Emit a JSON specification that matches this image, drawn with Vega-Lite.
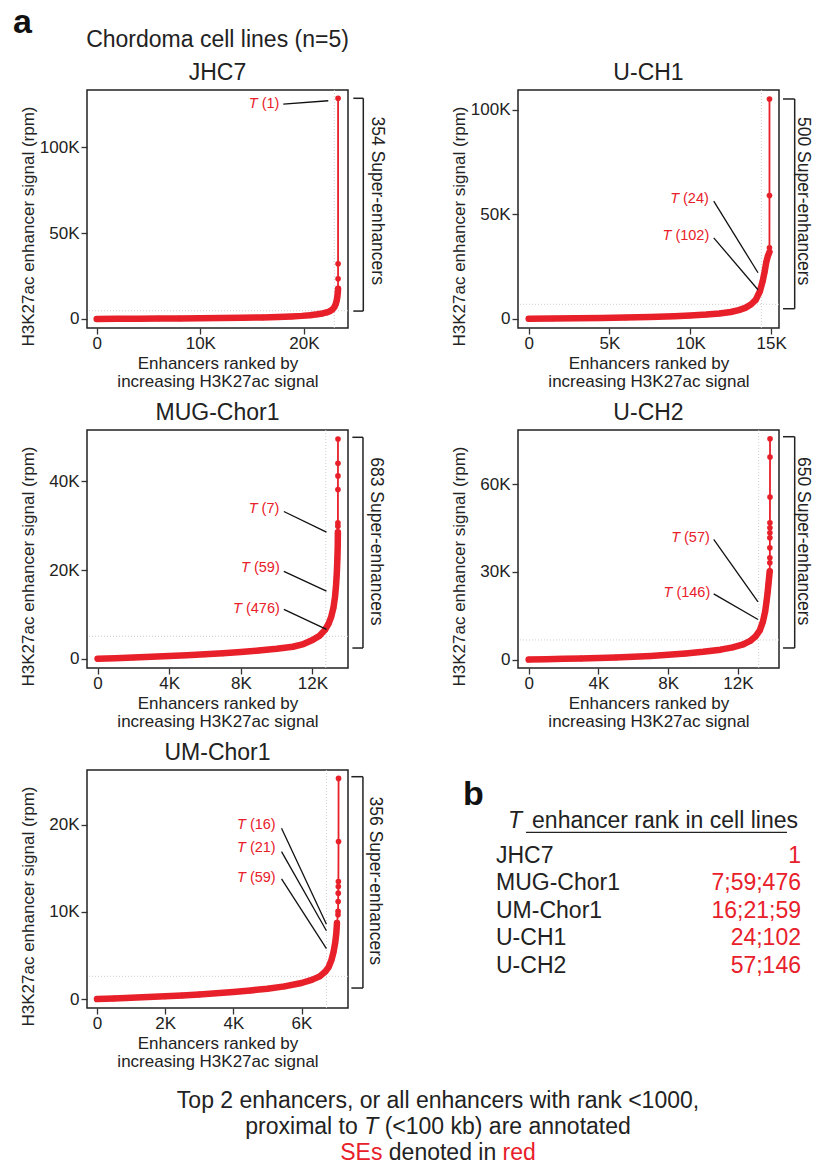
{
  "$schema": "https://vega.github.io/schema/vega-lite/v6.json",
  "padding": {"left": 13, "top": 5, "right": 0, "bottom": 0},
  "background": "white",
  "title": {"text": "a", "anchor": "start", "frame": "group", "dx": -74, "offset": -12, "fontSize": 34, "fontWeight": "bold", "color": "#111"},
  "config": {
    "font": "Liberation Sans",
    "view": {"stroke": "#222", "strokeWidth": 1.5},
    "axis": {"domain": false, "grid": false, "tickColor": "#333", "tickWidth": 1.3, "tickSize": 6, "labelFontSize": 17, "labelColor": "#222", "labelFont": "Liberation Sans", "titleFontSize": 17, "titleFontWeight": "normal", "titleColor": "#222", "titleFont": "Liberation Sans", "labelFlush": false, "labelOverlap": false},
    "title": {"fontSize": 23, "fontWeight": "normal", "color": "#222", "font": "Liberation Sans", "offset": 5, "anchor": "middle"},
    "text": {"font": "Liberation Sans"}
  },
  "datasets": {
    "curve": [
      {"cell": "JHC7", "order": 0, "signal": 0},
      {"cell": "JHC7", "order": 2000, "signal": 60},
      {"cell": "JHC7", "order": 4000, "signal": 130},
      {"cell": "JHC7", "order": 6000, "signal": 210},
      {"cell": "JHC7", "order": 8000, "signal": 300},
      {"cell": "JHC7", "order": 10000, "signal": 400},
      {"cell": "JHC7", "order": 12000, "signal": 520},
      {"cell": "JHC7", "order": 14000, "signal": 680},
      {"cell": "JHC7", "order": 16000, "signal": 900},
      {"cell": "JHC7", "order": 17500, "signal": 1150},
      {"cell": "JHC7", "order": 18800, "signal": 1450},
      {"cell": "JHC7", "order": 19800, "signal": 1800},
      {"cell": "JHC7", "order": 20600, "signal": 2200},
      {"cell": "JHC7", "order": 21300, "signal": 2700},
      {"cell": "JHC7", "order": 21800, "signal": 3200},
      {"cell": "JHC7", "order": 22200, "signal": 3800},
      {"cell": "JHC7", "order": 22500, "signal": 4500},
      {"cell": "JHC7", "order": 22750, "signal": 5500},
      {"cell": "JHC7", "order": 22950, "signal": 7000},
      {"cell": "JHC7", "order": 23080, "signal": 8800},
      {"cell": "JHC7", "order": 23170, "signal": 10800},
      {"cell": "JHC7", "order": 23230, "signal": 13000},
      {"cell": "JHC7", "order": 23270, "signal": 15200},
      {"cell": "JHC7", "order": 23297, "signal": 17540},
      {"cell": "JHC7", "order": 23298, "signal": 23390},
      {"cell": "JHC7", "order": 23299, "signal": 32160},
      {"cell": "JHC7", "order": 23300, "signal": 128500},
      {"cell": "U-CH1", "order": 0, "signal": 0},
      {"cell": "U-CH1", "order": 1500, "signal": 100},
      {"cell": "U-CH1", "order": 3000, "signal": 220},
      {"cell": "U-CH1", "order": 4500, "signal": 380},
      {"cell": "U-CH1", "order": 6000, "signal": 580},
      {"cell": "U-CH1", "order": 7500, "signal": 850},
      {"cell": "U-CH1", "order": 9000, "signal": 1200},
      {"cell": "U-CH1", "order": 10000, "signal": 1550},
      {"cell": "U-CH1", "order": 11000, "signal": 2000},
      {"cell": "U-CH1", "order": 11800, "signal": 2500},
      {"cell": "U-CH1", "order": 12500, "signal": 3200},
      {"cell": "U-CH1", "order": 13000, "signal": 4100},
      {"cell": "U-CH1", "order": 13400, "signal": 5200},
      {"cell": "U-CH1", "order": 13750, "signal": 6800},
      {"cell": "U-CH1", "order": 14050, "signal": 9000},
      {"cell": "U-CH1", "order": 14300, "signal": 13000},
      {"cell": "U-CH1", "order": 14480, "signal": 18000},
      {"cell": "U-CH1", "order": 14600, "signal": 22500},
      {"cell": "U-CH1", "order": 14700, "signal": 27000},
      {"cell": "U-CH1", "order": 14800, "signal": 30000},
      {"cell": "U-CH1", "order": 14897, "signal": 31850},
      {"cell": "U-CH1", "order": 14898, "signal": 33900},
      {"cell": "U-CH1", "order": 14899, "signal": 58930},
      {"cell": "U-CH1", "order": 14900, "signal": 105060},
      {"cell": "MUG-Chor1", "order": 0, "signal": 0},
      {"cell": "MUG-Chor1", "order": 1000, "signal": 130},
      {"cell": "MUG-Chor1", "order": 2000, "signal": 280},
      {"cell": "MUG-Chor1", "order": 3000, "signal": 440},
      {"cell": "MUG-Chor1", "order": 4000, "signal": 600},
      {"cell": "MUG-Chor1", "order": 5000, "signal": 780},
      {"cell": "MUG-Chor1", "order": 6000, "signal": 980},
      {"cell": "MUG-Chor1", "order": 7000, "signal": 1220},
      {"cell": "MUG-Chor1", "order": 8000, "signal": 1500},
      {"cell": "MUG-Chor1", "order": 9000, "signal": 1850},
      {"cell": "MUG-Chor1", "order": 10000, "signal": 2250},
      {"cell": "MUG-Chor1", "order": 10900, "signal": 2700},
      {"cell": "MUG-Chor1", "order": 11500, "signal": 3300},
      {"cell": "MUG-Chor1", "order": 12000, "signal": 4200},
      {"cell": "MUG-Chor1", "order": 12400, "signal": 5200},
      {"cell": "MUG-Chor1", "order": 12700, "signal": 6500},
      {"cell": "MUG-Chor1", "order": 12900, "signal": 7900},
      {"cell": "MUG-Chor1", "order": 13050, "signal": 9500},
      {"cell": "MUG-Chor1", "order": 13170, "signal": 11500},
      {"cell": "MUG-Chor1", "order": 13260, "signal": 14000},
      {"cell": "MUG-Chor1", "order": 13320, "signal": 16800},
      {"cell": "MUG-Chor1", "order": 13360, "signal": 19500},
      {"cell": "MUG-Chor1", "order": 13390, "signal": 22500},
      {"cell": "MUG-Chor1", "order": 13410, "signal": 25500},
      {"cell": "MUG-Chor1", "order": 13418, "signal": 28530},
      {"cell": "MUG-Chor1", "order": 13419, "signal": 29890},
      {"cell": "MUG-Chor1", "order": 13420, "signal": 30630},
      {"cell": "MUG-Chor1", "order": 13421, "signal": 38150},
      {"cell": "MUG-Chor1", "order": 13422, "signal": 41220},
      {"cell": "MUG-Chor1", "order": 13423, "signal": 44080},
      {"cell": "MUG-Chor1", "order": 13424, "signal": 49550},
      {"cell": "U-CH2", "order": 0, "signal": 0},
      {"cell": "U-CH2", "order": 1000, "signal": 120},
      {"cell": "U-CH2", "order": 2000, "signal": 250},
      {"cell": "U-CH2", "order": 3000, "signal": 390},
      {"cell": "U-CH2", "order": 4000, "signal": 550},
      {"cell": "U-CH2", "order": 5000, "signal": 740},
      {"cell": "U-CH2", "order": 6000, "signal": 960},
      {"cell": "U-CH2", "order": 7000, "signal": 1250},
      {"cell": "U-CH2", "order": 8000, "signal": 1650},
      {"cell": "U-CH2", "order": 9000, "signal": 2100},
      {"cell": "U-CH2", "order": 10000, "signal": 2650},
      {"cell": "U-CH2", "order": 11000, "signal": 3400},
      {"cell": "U-CH2", "order": 11700, "signal": 4200},
      {"cell": "U-CH2", "order": 12300, "signal": 5200},
      {"cell": "U-CH2", "order": 12700, "signal": 6400},
      {"cell": "U-CH2", "order": 13000, "signal": 7900},
      {"cell": "U-CH2", "order": 13250, "signal": 10000},
      {"cell": "U-CH2", "order": 13430, "signal": 13000},
      {"cell": "U-CH2", "order": 13560, "signal": 16500},
      {"cell": "U-CH2", "order": 13640, "signal": 20000},
      {"cell": "U-CH2", "order": 13700, "signal": 23000},
      {"cell": "U-CH2", "order": 13750, "signal": 26000},
      {"cell": "U-CH2", "order": 13790, "signal": 28500},
      {"cell": "U-CH2", "order": 13820, "signal": 30270},
      {"cell": "U-CH2", "order": 13826, "signal": 33120},
      {"cell": "U-CH2", "order": 13827, "signal": 34830},
      {"cell": "U-CH2", "order": 13828, "signal": 38260},
      {"cell": "U-CH2", "order": 13829, "signal": 41690},
      {"cell": "U-CH2", "order": 13830, "signal": 43400},
      {"cell": "U-CH2", "order": 13831, "signal": 45120},
      {"cell": "U-CH2", "order": 13832, "signal": 46830},
      {"cell": "U-CH2", "order": 13836, "signal": 55640},
      {"cell": "U-CH2", "order": 13837, "signal": 69350},
      {"cell": "U-CH2", "order": 13838, "signal": 75630},
      {"cell": "UM-Chor1", "order": 0, "signal": 0},
      {"cell": "UM-Chor1", "order": 500, "signal": 70},
      {"cell": "UM-Chor1", "order": 1000, "signal": 150},
      {"cell": "UM-Chor1", "order": 1500, "signal": 230},
      {"cell": "UM-Chor1", "order": 2000, "signal": 310},
      {"cell": "UM-Chor1", "order": 2500, "signal": 410},
      {"cell": "UM-Chor1", "order": 3000, "signal": 530},
      {"cell": "UM-Chor1", "order": 3500, "signal": 660},
      {"cell": "UM-Chor1", "order": 4000, "signal": 800},
      {"cell": "UM-Chor1", "order": 4500, "signal": 980},
      {"cell": "UM-Chor1", "order": 5000, "signal": 1190},
      {"cell": "UM-Chor1", "order": 5500, "signal": 1450},
      {"cell": "UM-Chor1", "order": 6000, "signal": 1840},
      {"cell": "UM-Chor1", "order": 6300, "signal": 2200},
      {"cell": "UM-Chor1", "order": 6535, "signal": 2600},
      {"cell": "UM-Chor1", "order": 6700, "signal": 3150},
      {"cell": "UM-Chor1", "order": 6800, "signal": 3700},
      {"cell": "UM-Chor1", "order": 6880, "signal": 4500},
      {"cell": "UM-Chor1", "order": 6940, "signal": 5400},
      {"cell": "UM-Chor1", "order": 6990, "signal": 6500},
      {"cell": "UM-Chor1", "order": 7020, "signal": 7500},
      {"cell": "UM-Chor1", "order": 7040, "signal": 8720},
      {"cell": "UM-Chor1", "order": 7070, "signal": 9680},
      {"cell": "UM-Chor1", "order": 7072, "signal": 10060},
      {"cell": "UM-Chor1", "order": 7075, "signal": 11200},
      {"cell": "UM-Chor1", "order": 7078, "signal": 12160},
      {"cell": "UM-Chor1", "order": 7080, "signal": 12925},
      {"cell": "UM-Chor1", "order": 7082, "signal": 13500},
      {"cell": "UM-Chor1", "order": 7086, "signal": 18085},
      {"cell": "UM-Chor1", "order": 7087, "signal": 25345}
    ],
    "se": [
      {"cell": "JHC7", "n_se": "354 Super-enhancers", "cut_order": 22935, "cut_signal": 4800, "se_top": 128500, "se_bottom": 4600, "label_y": 68830},
      {"cell": "U-CH1", "n_se": "500 Super-enhancers", "cut_order": 14400, "cut_signal": 6880, "se_top": 105060, "se_bottom": 4776, "label_y": 56200},
      {"cell": "MUG-Chor1", "n_se": "683 Super-enhancers", "cut_order": 12741, "cut_signal": 5045, "se_top": 49930, "se_bottom": 2410, "label_y": 26464},
      {"cell": "U-CH2", "n_se": "650 Super-enhancers", "cut_order": 13188, "cut_signal": 6720, "se_top": 76310, "se_bottom": 3977, "label_y": 40560},
      {"cell": "UM-Chor1", "n_se": "356 Super-enhancers", "cut_order": 6731, "cut_signal": 2603, "se_top": 25540, "se_bottom": 1262, "label_y": 13590}
    ],
    "ann": [
      {"cell": "JHC7", "rank": "(1)", "lx": 15930, "ly": 125320, "x1": 18010, "y1": 125150, "x2": 22355, "y2": 127080},
      {"cell": "U-CH1", "rank": "(24)", "lx": 9548, "ly": 57300, "x1": 11450, "y1": 56200, "x2": 14190, "y2": 21970},
      {"cell": "U-CH1", "rank": "(102)", "lx": 9078, "ly": 39350, "x1": 11450, "y1": 38680, "x2": 14190, "y2": 13850},
      {"cell": "MUG-Chor1", "rank": "(7)", "lx": 9159, "ly": 33780, "x1": 10401, "y1": 33200, "x2": 12780, "y2": 28535},
      {"cell": "MUG-Chor1", "rank": "(59)", "lx": 8730, "ly": 20500, "x1": 10401, "y1": 19685, "x2": 12780, "y2": 15248},
      {"cell": "MUG-Chor1", "rank": "(476)", "lx": 8284, "ly": 11260, "x1": 10401, "y1": 11126, "x2": 12780, "y2": 6622},
      {"cell": "U-CH2", "rank": "(57)", "lx": 8905, "ly": 41690, "x1": 10608, "y1": 41140, "x2": 13148, "y2": 19750},
      {"cell": "U-CH2", "rank": "(146)", "lx": 8469, "ly": 22830, "x1": 10608, "y1": 22490, "x2": 13148, "y2": 13710},
      {"cell": "UM-Chor1", "rank": "(16)", "lx": 4486, "ly": 20000, "x1": 5414, "y1": 19610, "x2": 6731, "y2": 8600},
      {"cell": "UM-Chor1", "rank": "(21)", "lx": 4486, "ly": 17400, "x1": 5414, "y1": 16940, "x2": 6731, "y2": 7844},
      {"cell": "UM-Chor1", "rank": "(59)", "lx": 4486, "ly": 13956, "x1": 5414, "y1": 13807, "x2": 6731, "y2": 5780}
    ],
    "table": [
      {"cell": "JHC7", "t_rank": "1"},
      {"cell": "MUG-Chor1", "t_rank": "7;59;476"},
      {"cell": "UM-Chor1", "t_rank": "16;21;59"},
      {"cell": "U-CH1", "t_rank": "24;102"},
      {"cell": "U-CH2", "t_rank": "57;146"}
    ],
    "note": [
      {"line": "l1", "a": "Top 2 enhancers, or all enhancers with rank <1000,"},
      {"line": "l2", "a": "proximal to", "b": "T", "c": "(<100 kb) are annotated"},
      {"line": "l3", "a": "SEs", "b": "denoted in", "c": "red"}
    ]
  },
  "columns": 2,
  "spacing": {"row": 102, "column": 170},
  "bounds": "flush",
  "concat": [
    {
      "width": 261, "height": 238,
      "title": {"text": ["Chordoma cell lines (n=5)", "JHC7"], "lineHeight": 33},
      "layer": [
        {"data": {"name": "curve"}, "transform": [{"filter": "datum.cell == 'JHC7'"}], "mark": {"type": "circle", "color": "#e8202a", "size": 32, "opacity": 1}, "encoding": {
          "x": {"field": "order", "type": "quantitative", "scale": {"domain": [-936, 24257], "nice": false, "zero": false}, "axis": {"values": [0, 10000, 20000], "title": ["Enhancers ranked by", "increasing H3K27ac signal"], "titleY": 40.5, "titleBaseline": "alphabetic", "titleLineHeight": 17.5, "labelPadding": 1.5, "labelExpr": "datum.value == 0 ? '0' : format(datum.value / 1000, 'd') + 'K'"}},
          "y": {"field": "signal", "type": "quantitative", "scale": {"domain": [-5263, 133330], "nice": false, "zero": false}, "axis": {"values": [0, 50000, 100000], "title": "H3K27ac enhancer signal (rpm)", "titleX": -59, "titleY": 136, "titleBaseline": "middle", "labelPadding": 2, "labelExpr": "datum.value == 0 ? '0' : format(datum.value / 1000, 'd') + 'K'"}}}},
        {"data": {"name": "se"}, "transform": [{"filter": "datum.cell == 'JHC7'"}], "mark": {"type": "rule", "color": "#c8c8c8", "strokeDash": [1, 2], "strokeWidth": 0.9}, "encoding": {"y": {"field": "cut_signal", "type": "quantitative", "scale": {"domain": [-5263, 133330], "nice": false, "zero": false}}}},
        {"data": {"name": "se"}, "transform": [{"filter": "datum.cell == 'JHC7'"}], "mark": {"type": "rule", "color": "#c8c8c8", "strokeDash": [1, 2], "strokeWidth": 0.9}, "encoding": {"x": {"field": "cut_order", "type": "quantitative", "scale": {"domain": [-936, 24257], "nice": false, "zero": false}}}},
        {"data": {"name": "curve"}, "transform": [{"filter": "datum.cell == 'JHC7' && datum.signal <= 17540"}], "mark": {"type": "line", "color": "#e8202a", "strokeWidth": 6.5, "strokeCap": "round", "strokeJoin": "round"}, "encoding": {"x": {"field": "order", "type": "quantitative", "scale": {"domain": [-936, 24257], "nice": false, "zero": false}}, "y": {"field": "signal", "type": "quantitative", "scale": {"domain": [-5263, 133330], "nice": false, "zero": false}}}},
        {"data": {"name": "curve"}, "transform": [{"filter": "datum.cell == 'JHC7'"}], "mark": {"type": "line", "color": "#e8202a", "strokeWidth": 1.8}, "encoding": {"x": {"field": "order", "type": "quantitative", "scale": {"domain": [-936, 24257], "nice": false, "zero": false}}, "y": {"field": "signal", "type": "quantitative", "scale": {"domain": [-5263, 133330], "nice": false, "zero": false}}}},
        {"data": {"name": "ann"}, "transform": [{"filter": "datum.cell == 'JHC7'"}], "mark": {"type": "rule", "color": "#111", "strokeWidth": 1.3}, "encoding": {"x": {"field": "x1", "type": "quantitative", "scale": {"domain": [-936, 24257], "nice": false, "zero": false}}, "y": {"field": "y1", "type": "quantitative", "scale": {"domain": [-5263, 133330], "nice": false, "zero": false}}, "x2": {"field": "x2"}, "y2": {"field": "y2"}}},
        {"data": {"name": "ann"}, "transform": [{"filter": "datum.cell == 'JHC7'"}], "mark": {"type": "text", "color": "#e8202a", "fontSize": 14.5, "align": "left", "baseline": "middle"}, "encoding": {"x": {"field": "lx", "type": "quantitative", "scale": {"domain": [-936, 24257], "nice": false, "zero": false}}, "y": {"field": "ly", "type": "quantitative", "scale": {"domain": [-5263, 133330], "nice": false, "zero": false}}, "text": {"field": "rank"}}},
        {"data": {"name": "ann"}, "transform": [{"filter": "datum.cell == 'JHC7'"}], "mark": {"type": "text", "color": "#e8202a", "fontSize": 14.5, "fontStyle": "italic", "align": "right", "baseline": "middle", "dx": -4}, "encoding": {"x": {"field": "lx", "type": "quantitative", "scale": {"domain": [-936, 24257], "nice": false, "zero": false}}, "y": {"field": "ly", "type": "quantitative", "scale": {"domain": [-5263, 133330], "nice": false, "zero": false}}, "text": {"value": "T"}}},
        {"data": {"name": "se"}, "transform": [{"filter": "datum.cell == 'JHC7'"}], "mark": {"type": "rule", "color": "#222", "strokeWidth": 1.5}, "encoding": {"x": {"datum": 25734, "type": "quantitative", "scale": {"domain": [-936, 24257], "nice": false, "zero": false}}, "y": {"field": "se_top", "type": "quantitative", "scale": {"domain": [-5263, 133330], "nice": false, "zero": false}}, "y2": {"field": "se_bottom"}}},
        {"data": {"name": "se"}, "transform": [{"filter": "datum.cell == 'JHC7'"}], "mark": {"type": "rule", "color": "#222", "strokeWidth": 1.5}, "encoding": {"x": {"datum": 24768, "type": "quantitative", "scale": {"domain": [-936, 24257], "nice": false, "zero": false}}, "x2": {"datum": 25734}, "y": {"field": "se_top", "type": "quantitative", "scale": {"domain": [-5263, 133330], "nice": false, "zero": false}}}},
        {"data": {"name": "se"}, "transform": [{"filter": "datum.cell == 'JHC7'"}], "mark": {"type": "rule", "color": "#222", "strokeWidth": 1.5}, "encoding": {"x": {"datum": 24768, "type": "quantitative", "scale": {"domain": [-936, 24257], "nice": false, "zero": false}}, "x2": {"datum": 25734}, "y": {"field": "se_bottom", "type": "quantitative", "scale": {"domain": [-5263, 133330], "nice": false, "zero": false}}}},
        {"data": {"name": "se"}, "transform": [{"filter": "datum.cell == 'JHC7'"}], "mark": {"type": "text", "color": "#222", "fontSize": 17.5, "angle": 90, "align": "center", "baseline": "middle"}, "encoding": {"x": {"datum": 27027, "type": "quantitative", "scale": {"domain": [-936, 24257], "nice": false, "zero": false}}, "y": {"field": "label_y", "type": "quantitative", "scale": {"domain": [-5263, 133330], "nice": false, "zero": false}}, "text": {"field": "n_se"}}}
      ]
    },
    {
      "width": 261, "height": 238,
      "title": "U-CH1",
      "layer": [
        {"data": {"name": "curve"}, "transform": [{"filter": "datum.cell == 'U-CH1'"}], "mark": {"type": "circle", "color": "#e8202a", "size": 32, "opacity": 1}, "encoding": {
          "x": {"field": "order", "type": "quantitative", "scale": {"domain": [-662, 15489], "nice": false, "zero": false}, "axis": {"values": [0, 5000, 10000, 15000], "title": ["Enhancers ranked by", "increasing H3K27ac signal"], "titleY": 40.5, "titleBaseline": "alphabetic", "titleLineHeight": 17.5, "labelPadding": 1.5, "labelExpr": "datum.value == 0 ? '0' : format(datum.value / 1000, 'd') + 'K'"}},
          "y": {"field": "signal", "type": "quantitative", "scale": {"domain": [-4441, 109360], "nice": false, "zero": false}, "axis": {"values": [0, 50000, 100000], "title": "H3K27ac enhancer signal (rpm)", "titleX": -59, "titleY": 136, "titleBaseline": "middle", "labelPadding": 2, "labelExpr": "datum.value == 0 ? '0' : format(datum.value / 1000, 'd') + 'K'"}}}},
        {"data": {"name": "se"}, "transform": [{"filter": "datum.cell == 'U-CH1'"}], "mark": {"type": "rule", "color": "#c8c8c8", "strokeDash": [1, 2], "strokeWidth": 0.9}, "encoding": {"y": {"field": "cut_signal", "type": "quantitative", "scale": {"domain": [-4441, 109360], "nice": false, "zero": false}}}},
        {"data": {"name": "se"}, "transform": [{"filter": "datum.cell == 'U-CH1'"}], "mark": {"type": "rule", "color": "#c8c8c8", "strokeDash": [1, 2], "strokeWidth": 0.9}, "encoding": {"x": {"field": "cut_order", "type": "quantitative", "scale": {"domain": [-662, 15489], "nice": false, "zero": false}}}},
        {"data": {"name": "curve"}, "transform": [{"filter": "datum.cell == 'U-CH1' && datum.signal <= 31850"}], "mark": {"type": "line", "color": "#e8202a", "strokeWidth": 6.5, "strokeCap": "round", "strokeJoin": "round"}, "encoding": {"x": {"field": "order", "type": "quantitative", "scale": {"domain": [-662, 15489], "nice": false, "zero": false}}, "y": {"field": "signal", "type": "quantitative", "scale": {"domain": [-4441, 109360], "nice": false, "zero": false}}}},
        {"data": {"name": "curve"}, "transform": [{"filter": "datum.cell == 'U-CH1'"}], "mark": {"type": "line", "color": "#e8202a", "strokeWidth": 1.8}, "encoding": {"x": {"field": "order", "type": "quantitative", "scale": {"domain": [-662, 15489], "nice": false, "zero": false}}, "y": {"field": "signal", "type": "quantitative", "scale": {"domain": [-4441, 109360], "nice": false, "zero": false}}}},
        {"data": {"name": "ann"}, "transform": [{"filter": "datum.cell == 'U-CH1'"}], "mark": {"type": "rule", "color": "#111", "strokeWidth": 1.3}, "encoding": {"x": {"field": "x1", "type": "quantitative", "scale": {"domain": [-662, 15489], "nice": false, "zero": false}}, "y": {"field": "y1", "type": "quantitative", "scale": {"domain": [-4441, 109360], "nice": false, "zero": false}}, "x2": {"field": "x2"}, "y2": {"field": "y2"}}},
        {"data": {"name": "ann"}, "transform": [{"filter": "datum.cell == 'U-CH1'"}], "mark": {"type": "text", "color": "#e8202a", "fontSize": 14.5, "align": "left", "baseline": "middle"}, "encoding": {"x": {"field": "lx", "type": "quantitative", "scale": {"domain": [-662, 15489], "nice": false, "zero": false}}, "y": {"field": "ly", "type": "quantitative", "scale": {"domain": [-4441, 109360], "nice": false, "zero": false}}, "text": {"field": "rank"}}},
        {"data": {"name": "ann"}, "transform": [{"filter": "datum.cell == 'U-CH1'"}], "mark": {"type": "text", "color": "#e8202a", "fontSize": 14.5, "fontStyle": "italic", "align": "right", "baseline": "middle", "dx": -4}, "encoding": {"x": {"field": "lx", "type": "quantitative", "scale": {"domain": [-662, 15489], "nice": false, "zero": false}}, "y": {"field": "ly", "type": "quantitative", "scale": {"domain": [-4441, 109360], "nice": false, "zero": false}}, "text": {"value": "T"}}},
        {"data": {"name": "se"}, "transform": [{"filter": "datum.cell == 'U-CH1'"}], "mark": {"type": "rule", "color": "#222", "strokeWidth": 1.5}, "encoding": {"x": {"datum": 16460, "type": "quantitative", "scale": {"domain": [-662, 15489], "nice": false, "zero": false}}, "y": {"field": "se_top", "type": "quantitative", "scale": {"domain": [-4441, 109360], "nice": false, "zero": false}}, "y2": {"field": "se_bottom"}}},
        {"data": {"name": "se"}, "transform": [{"filter": "datum.cell == 'U-CH1'"}], "mark": {"type": "rule", "color": "#222", "strokeWidth": 1.5}, "encoding": {"x": {"datum": 15736, "type": "quantitative", "scale": {"domain": [-662, 15489], "nice": false, "zero": false}}, "x2": {"datum": 16460}, "y": {"field": "se_top", "type": "quantitative", "scale": {"domain": [-4441, 109360], "nice": false, "zero": false}}}},
        {"data": {"name": "se"}, "transform": [{"filter": "datum.cell == 'U-CH1'"}], "mark": {"type": "rule", "color": "#222", "strokeWidth": 1.5}, "encoding": {"x": {"datum": 15736, "type": "quantitative", "scale": {"domain": [-662, 15489], "nice": false, "zero": false}}, "x2": {"datum": 16460}, "y": {"field": "se_bottom", "type": "quantitative", "scale": {"domain": [-4441, 109360], "nice": false, "zero": false}}}},
        {"data": {"name": "se"}, "transform": [{"filter": "datum.cell == 'U-CH1'"}], "mark": {"type": "text", "color": "#222", "fontSize": 17.5, "angle": 90, "align": "center", "baseline": "middle"}, "encoding": {"x": {"datum": 16955, "type": "quantitative", "scale": {"domain": [-662, 15489], "nice": false, "zero": false}}, "y": {"field": "label_y", "type": "quantitative", "scale": {"domain": [-4441, 109360], "nice": false, "zero": false}}, "text": {"field": "n_se"}}}
      ]
    },
    {
      "width": 261, "height": 238,
      "title": "MUG-Chor1",
      "layer": [
        {"data": {"name": "curve"}, "transform": [{"filter": "datum.cell == 'MUG-Chor1'"}], "mark": {"type": "circle", "color": "#e8202a", "size": 32, "opacity": 1}, "encoding": {
          "x": {"field": "order", "type": "quantitative", "scale": {"domain": [-590, 13983], "nice": false, "zero": false}, "axis": {"values": [0, 4000, 8000, 12000], "title": ["Enhancers ranked by", "increasing H3K27ac signal"], "titleY": 40.5, "titleBaseline": "alphabetic", "titleLineHeight": 17.5, "labelPadding": 1.5, "labelExpr": "datum.value == 0 ? '0' : format(datum.value / 1000, 'd') + 'K'"}},
          "y": {"field": "signal", "type": "quantitative", "scale": {"domain": [-2095, 51577], "nice": false, "zero": false}, "axis": {"values": [0, 20000, 40000], "title": "H3K27ac enhancer signal (rpm)", "titleX": -59, "titleY": 136, "titleBaseline": "middle", "labelPadding": 2, "labelExpr": "datum.value == 0 ? '0' : format(datum.value / 1000, 'd') + 'K'"}}}},
        {"data": {"name": "se"}, "transform": [{"filter": "datum.cell == 'MUG-Chor1'"}], "mark": {"type": "rule", "color": "#c8c8c8", "strokeDash": [1, 2], "strokeWidth": 0.9}, "encoding": {"y": {"field": "cut_signal", "type": "quantitative", "scale": {"domain": [-2095, 51577], "nice": false, "zero": false}}}},
        {"data": {"name": "se"}, "transform": [{"filter": "datum.cell == 'MUG-Chor1'"}], "mark": {"type": "rule", "color": "#c8c8c8", "strokeDash": [1, 2], "strokeWidth": 0.9}, "encoding": {"x": {"field": "cut_order", "type": "quantitative", "scale": {"domain": [-590, 13983], "nice": false, "zero": false}}}},
        {"data": {"name": "curve"}, "transform": [{"filter": "datum.cell == 'MUG-Chor1' && datum.signal <= 28530"}], "mark": {"type": "line", "color": "#e8202a", "strokeWidth": 6.5, "strokeCap": "round", "strokeJoin": "round"}, "encoding": {"x": {"field": "order", "type": "quantitative", "scale": {"domain": [-590, 13983], "nice": false, "zero": false}}, "y": {"field": "signal", "type": "quantitative", "scale": {"domain": [-2095, 51577], "nice": false, "zero": false}}}},
        {"data": {"name": "curve"}, "transform": [{"filter": "datum.cell == 'MUG-Chor1'"}], "mark": {"type": "line", "color": "#e8202a", "strokeWidth": 1.8}, "encoding": {"x": {"field": "order", "type": "quantitative", "scale": {"domain": [-590, 13983], "nice": false, "zero": false}}, "y": {"field": "signal", "type": "quantitative", "scale": {"domain": [-2095, 51577], "nice": false, "zero": false}}}},
        {"data": {"name": "ann"}, "transform": [{"filter": "datum.cell == 'MUG-Chor1'"}], "mark": {"type": "rule", "color": "#111", "strokeWidth": 1.3}, "encoding": {"x": {"field": "x1", "type": "quantitative", "scale": {"domain": [-590, 13983], "nice": false, "zero": false}}, "y": {"field": "y1", "type": "quantitative", "scale": {"domain": [-2095, 51577], "nice": false, "zero": false}}, "x2": {"field": "x2"}, "y2": {"field": "y2"}}},
        {"data": {"name": "ann"}, "transform": [{"filter": "datum.cell == 'MUG-Chor1'"}], "mark": {"type": "text", "color": "#e8202a", "fontSize": 14.5, "align": "left", "baseline": "middle"}, "encoding": {"x": {"field": "lx", "type": "quantitative", "scale": {"domain": [-590, 13983], "nice": false, "zero": false}}, "y": {"field": "ly", "type": "quantitative", "scale": {"domain": [-2095, 51577], "nice": false, "zero": false}}, "text": {"field": "rank"}}},
        {"data": {"name": "ann"}, "transform": [{"filter": "datum.cell == 'MUG-Chor1'"}], "mark": {"type": "text", "color": "#e8202a", "fontSize": 14.5, "fontStyle": "italic", "align": "right", "baseline": "middle", "dx": -4}, "encoding": {"x": {"field": "lx", "type": "quantitative", "scale": {"domain": [-590, 13983], "nice": false, "zero": false}}, "y": {"field": "ly", "type": "quantitative", "scale": {"domain": [-2095, 51577], "nice": false, "zero": false}}, "text": {"value": "T"}}},
        {"data": {"name": "se"}, "transform": [{"filter": "datum.cell == 'MUG-Chor1'"}], "mark": {"type": "rule", "color": "#222", "strokeWidth": 1.5}, "encoding": {"x": {"datum": 14819, "type": "quantitative", "scale": {"domain": [-590, 13983], "nice": false, "zero": false}}, "y": {"field": "se_top", "type": "quantitative", "scale": {"domain": [-2095, 51577], "nice": false, "zero": false}}, "y2": {"field": "se_bottom"}}},
        {"data": {"name": "se"}, "transform": [{"filter": "datum.cell == 'MUG-Chor1'"}], "mark": {"type": "rule", "color": "#222", "strokeWidth": 1.5}, "encoding": {"x": {"datum": 14228, "type": "quantitative", "scale": {"domain": [-590, 13983], "nice": false, "zero": false}}, "x2": {"datum": 14819}, "y": {"field": "se_top", "type": "quantitative", "scale": {"domain": [-2095, 51577], "nice": false, "zero": false}}}},
        {"data": {"name": "se"}, "transform": [{"filter": "datum.cell == 'MUG-Chor1'"}], "mark": {"type": "rule", "color": "#222", "strokeWidth": 1.5}, "encoding": {"x": {"datum": 14228, "type": "quantitative", "scale": {"domain": [-590, 13983], "nice": false, "zero": false}}, "x2": {"datum": 14819}, "y": {"field": "se_bottom", "type": "quantitative", "scale": {"domain": [-2095, 51577], "nice": false, "zero": false}}}},
        {"data": {"name": "se"}, "transform": [{"filter": "datum.cell == 'MUG-Chor1'"}], "mark": {"type": "text", "color": "#222", "fontSize": 17.5, "angle": 90, "align": "center", "baseline": "middle"}, "encoding": {"x": {"datum": 15526, "type": "quantitative", "scale": {"domain": [-590, 13983], "nice": false, "zero": false}}, "y": {"field": "label_y", "type": "quantitative", "scale": {"domain": [-2095, 51577], "nice": false, "zero": false}}, "text": {"field": "n_se"}}}
      ]
    },
    {
      "width": 261, "height": 238,
      "title": "U-CH2",
      "layer": [
        {"data": {"name": "curve"}, "transform": [{"filter": "datum.cell == 'U-CH2'"}], "mark": {"type": "circle", "color": "#e8202a", "size": 32, "opacity": 1}, "encoding": {
          "x": {"field": "order", "type": "quantitative", "scale": {"domain": [-613, 14352], "nice": false, "zero": false}, "axis": {"values": [0, 4000, 8000, 12000], "title": ["Enhancers ranked by", "increasing H3K27ac signal"], "titleY": 40.5, "titleBaseline": "alphabetic", "titleLineHeight": 17.5, "labelPadding": 1.5, "labelExpr": "datum.value == 0 ? '0' : format(datum.value / 1000, 'd') + 'K'"}},
          "y": {"field": "signal", "type": "quantitative", "scale": {"domain": [-2880, 78610], "nice": false, "zero": false}, "axis": {"values": [0, 30000, 60000], "title": "H3K27ac enhancer signal (rpm)", "titleX": -59, "titleY": 136, "titleBaseline": "middle", "labelPadding": 2, "labelExpr": "datum.value == 0 ? '0' : format(datum.value / 1000, 'd') + 'K'"}}}},
        {"data": {"name": "se"}, "transform": [{"filter": "datum.cell == 'U-CH2'"}], "mark": {"type": "rule", "color": "#c8c8c8", "strokeDash": [1, 2], "strokeWidth": 0.9}, "encoding": {"y": {"field": "cut_signal", "type": "quantitative", "scale": {"domain": [-2880, 78610], "nice": false, "zero": false}}}},
        {"data": {"name": "se"}, "transform": [{"filter": "datum.cell == 'U-CH2'"}], "mark": {"type": "rule", "color": "#c8c8c8", "strokeDash": [1, 2], "strokeWidth": 0.9}, "encoding": {"x": {"field": "cut_order", "type": "quantitative", "scale": {"domain": [-613, 14352], "nice": false, "zero": false}}}},
        {"data": {"name": "curve"}, "transform": [{"filter": "datum.cell == 'U-CH2' && datum.signal <= 30270"}], "mark": {"type": "line", "color": "#e8202a", "strokeWidth": 6.5, "strokeCap": "round", "strokeJoin": "round"}, "encoding": {"x": {"field": "order", "type": "quantitative", "scale": {"domain": [-613, 14352], "nice": false, "zero": false}}, "y": {"field": "signal", "type": "quantitative", "scale": {"domain": [-2880, 78610], "nice": false, "zero": false}}}},
        {"data": {"name": "curve"}, "transform": [{"filter": "datum.cell == 'U-CH2'"}], "mark": {"type": "line", "color": "#e8202a", "strokeWidth": 1.8}, "encoding": {"x": {"field": "order", "type": "quantitative", "scale": {"domain": [-613, 14352], "nice": false, "zero": false}}, "y": {"field": "signal", "type": "quantitative", "scale": {"domain": [-2880, 78610], "nice": false, "zero": false}}}},
        {"data": {"name": "ann"}, "transform": [{"filter": "datum.cell == 'U-CH2'"}], "mark": {"type": "rule", "color": "#111", "strokeWidth": 1.3}, "encoding": {"x": {"field": "x1", "type": "quantitative", "scale": {"domain": [-613, 14352], "nice": false, "zero": false}}, "y": {"field": "y1", "type": "quantitative", "scale": {"domain": [-2880, 78610], "nice": false, "zero": false}}, "x2": {"field": "x2"}, "y2": {"field": "y2"}}},
        {"data": {"name": "ann"}, "transform": [{"filter": "datum.cell == 'U-CH2'"}], "mark": {"type": "text", "color": "#e8202a", "fontSize": 14.5, "align": "left", "baseline": "middle"}, "encoding": {"x": {"field": "lx", "type": "quantitative", "scale": {"domain": [-613, 14352], "nice": false, "zero": false}}, "y": {"field": "ly", "type": "quantitative", "scale": {"domain": [-2880, 78610], "nice": false, "zero": false}}, "text": {"field": "rank"}}},
        {"data": {"name": "ann"}, "transform": [{"filter": "datum.cell == 'U-CH2'"}], "mark": {"type": "text", "color": "#e8202a", "fontSize": 14.5, "fontStyle": "italic", "align": "right", "baseline": "middle", "dx": -4}, "encoding": {"x": {"field": "lx", "type": "quantitative", "scale": {"domain": [-613, 14352], "nice": false, "zero": false}}, "y": {"field": "ly", "type": "quantitative", "scale": {"domain": [-2880, 78610], "nice": false, "zero": false}}, "text": {"value": "T"}}},
        {"data": {"name": "se"}, "transform": [{"filter": "datum.cell == 'U-CH2'"}], "mark": {"type": "rule", "color": "#222", "strokeWidth": 1.5}, "encoding": {"x": {"datum": 15252, "type": "quantitative", "scale": {"domain": [-613, 14352], "nice": false, "zero": false}}, "y": {"field": "se_top", "type": "quantitative", "scale": {"domain": [-2880, 78610], "nice": false, "zero": false}}, "y2": {"field": "se_bottom"}}},
        {"data": {"name": "se"}, "transform": [{"filter": "datum.cell == 'U-CH2'"}], "mark": {"type": "rule", "color": "#222", "strokeWidth": 1.5}, "encoding": {"x": {"datum": 14582, "type": "quantitative", "scale": {"domain": [-613, 14352], "nice": false, "zero": false}}, "x2": {"datum": 15252}, "y": {"field": "se_top", "type": "quantitative", "scale": {"domain": [-2880, 78610], "nice": false, "zero": false}}}},
        {"data": {"name": "se"}, "transform": [{"filter": "datum.cell == 'U-CH2'"}], "mark": {"type": "rule", "color": "#222", "strokeWidth": 1.5}, "encoding": {"x": {"datum": 14582, "type": "quantitative", "scale": {"domain": [-613, 14352], "nice": false, "zero": false}}, "x2": {"datum": 15252}, "y": {"field": "se_bottom", "type": "quantitative", "scale": {"domain": [-2880, 78610], "nice": false, "zero": false}}}},
        {"data": {"name": "se"}, "transform": [{"filter": "datum.cell == 'U-CH2'"}], "mark": {"type": "text", "color": "#222", "fontSize": 17.5, "angle": 90, "align": "center", "baseline": "middle"}, "encoding": {"x": {"datum": 15711, "type": "quantitative", "scale": {"domain": [-613, 14352], "nice": false, "zero": false}}, "y": {"field": "label_y", "type": "quantitative", "scale": {"domain": [-2880, 78610], "nice": false, "zero": false}}, "text": {"field": "n_se"}}}
      ]
    },
    {
      "width": 261, "height": 238,
      "title": "UM-Chor1",
      "layer": [
        {"data": {"name": "curve"}, "transform": [{"filter": "datum.cell == 'UM-Chor1'"}], "mark": {"type": "circle", "color": "#e8202a", "size": 32, "opacity": 1}, "encoding": {
          "x": {"field": "order", "type": "quantitative", "scale": {"domain": [-293, 7364], "nice": false, "zero": false}, "axis": {"values": [0, 2000, 4000, 6000], "title": ["Enhancers ranked by", "increasing H3K27ac signal"], "titleY": 40.5, "titleBaseline": "alphabetic", "titleLineHeight": 17.5, "labelPadding": 1.5, "labelExpr": "datum.value == 0 ? '0' : format(datum.value / 1000, 'd') + 'K'"}},
          "y": {"field": "signal", "type": "quantitative", "scale": {"domain": [-1032, 26310], "nice": false, "zero": false}, "axis": {"values": [0, 10000, 20000], "title": "H3K27ac enhancer signal (rpm)", "titleX": -59, "titleY": 136, "titleBaseline": "middle", "labelPadding": 2, "labelExpr": "datum.value == 0 ? '0' : format(datum.value / 1000, 'd') + 'K'"}}}},
        {"data": {"name": "se"}, "transform": [{"filter": "datum.cell == 'UM-Chor1'"}], "mark": {"type": "rule", "color": "#c8c8c8", "strokeDash": [1, 2], "strokeWidth": 0.9}, "encoding": {"y": {"field": "cut_signal", "type": "quantitative", "scale": {"domain": [-1032, 26310], "nice": false, "zero": false}}}},
        {"data": {"name": "se"}, "transform": [{"filter": "datum.cell == 'UM-Chor1'"}], "mark": {"type": "rule", "color": "#c8c8c8", "strokeDash": [1, 2], "strokeWidth": 0.9}, "encoding": {"x": {"field": "cut_order", "type": "quantitative", "scale": {"domain": [-293, 7364], "nice": false, "zero": false}}}},
        {"data": {"name": "curve"}, "transform": [{"filter": "datum.cell == 'UM-Chor1' && datum.signal <= 8720"}], "mark": {"type": "line", "color": "#e8202a", "strokeWidth": 6.5, "strokeCap": "round", "strokeJoin": "round"}, "encoding": {"x": {"field": "order", "type": "quantitative", "scale": {"domain": [-293, 7364], "nice": false, "zero": false}}, "y": {"field": "signal", "type": "quantitative", "scale": {"domain": [-1032, 26310], "nice": false, "zero": false}}}},
        {"data": {"name": "curve"}, "transform": [{"filter": "datum.cell == 'UM-Chor1'"}], "mark": {"type": "line", "color": "#e8202a", "strokeWidth": 1.8}, "encoding": {"x": {"field": "order", "type": "quantitative", "scale": {"domain": [-293, 7364], "nice": false, "zero": false}}, "y": {"field": "signal", "type": "quantitative", "scale": {"domain": [-1032, 26310], "nice": false, "zero": false}}}},
        {"data": {"name": "ann"}, "transform": [{"filter": "datum.cell == 'UM-Chor1'"}], "mark": {"type": "rule", "color": "#111", "strokeWidth": 1.3}, "encoding": {"x": {"field": "x1", "type": "quantitative", "scale": {"domain": [-293, 7364], "nice": false, "zero": false}}, "y": {"field": "y1", "type": "quantitative", "scale": {"domain": [-1032, 26310], "nice": false, "zero": false}}, "x2": {"field": "x2"}, "y2": {"field": "y2"}}},
        {"data": {"name": "ann"}, "transform": [{"filter": "datum.cell == 'UM-Chor1'"}], "mark": {"type": "text", "color": "#e8202a", "fontSize": 14.5, "align": "left", "baseline": "middle"}, "encoding": {"x": {"field": "lx", "type": "quantitative", "scale": {"domain": [-293, 7364], "nice": false, "zero": false}}, "y": {"field": "ly", "type": "quantitative", "scale": {"domain": [-1032, 26310], "nice": false, "zero": false}}, "text": {"field": "rank"}}},
        {"data": {"name": "ann"}, "transform": [{"filter": "datum.cell == 'UM-Chor1'"}], "mark": {"type": "text", "color": "#e8202a", "fontSize": 14.5, "fontStyle": "italic", "align": "right", "baseline": "middle", "dx": -4}, "encoding": {"x": {"field": "lx", "type": "quantitative", "scale": {"domain": [-293, 7364], "nice": false, "zero": false}}, "y": {"field": "ly", "type": "quantitative", "scale": {"domain": [-1032, 26310], "nice": false, "zero": false}}, "text": {"value": "T"}}},
        {"data": {"name": "se"}, "transform": [{"filter": "datum.cell == 'UM-Chor1'"}], "mark": {"type": "rule", "color": "#222", "strokeWidth": 1.5}, "encoding": {"x": {"datum": 7802, "type": "quantitative", "scale": {"domain": [-293, 7364], "nice": false, "zero": false}}, "y": {"field": "se_top", "type": "quantitative", "scale": {"domain": [-1032, 26310], "nice": false, "zero": false}}, "y2": {"field": "se_bottom"}}},
        {"data": {"name": "se"}, "transform": [{"filter": "datum.cell == 'UM-Chor1'"}], "mark": {"type": "rule", "color": "#222", "strokeWidth": 1.5}, "encoding": {"x": {"datum": 7463, "type": "quantitative", "scale": {"domain": [-293, 7364], "nice": false, "zero": false}}, "x2": {"datum": 7802}, "y": {"field": "se_top", "type": "quantitative", "scale": {"domain": [-1032, 26310], "nice": false, "zero": false}}}},
        {"data": {"name": "se"}, "transform": [{"filter": "datum.cell == 'UM-Chor1'"}], "mark": {"type": "rule", "color": "#222", "strokeWidth": 1.5}, "encoding": {"x": {"datum": 7463, "type": "quantitative", "scale": {"domain": [-293, 7364], "nice": false, "zero": false}}, "x2": {"datum": 7802}, "y": {"field": "se_bottom", "type": "quantitative", "scale": {"domain": [-1032, 26310], "nice": false, "zero": false}}}},
        {"data": {"name": "se"}, "transform": [{"filter": "datum.cell == 'UM-Chor1'"}], "mark": {"type": "text", "color": "#222", "fontSize": 17.5, "angle": 90, "align": "center", "baseline": "middle"}, "encoding": {"x": {"datum": 8145, "type": "quantitative", "scale": {"domain": [-293, 7364], "nice": false, "zero": false}}, "y": {"field": "label_y", "type": "quantitative", "scale": {"domain": [-1032, 26310], "nice": false, "zero": false}}, "text": {"field": "n_se"}}}
      ]
    },
    {
      "width": 283, "height": 238,
      "view": {"stroke": null},
      "data": {"name": "table"},
      "layer": [
        {"mark": {"type": "text", "align": "left", "baseline": "middle", "fontSize": 23, "color": "#222"}, "encoding": {"x": {"datum": -0.0777, "type": "quantitative", "scale": {"domain": [0, 1], "nice": false, "zero": false}, "axis": null}, "y": {"field": "cell", "type": "nominal", "sort": null, "scale": {"type": "point", "domain": ["JHC7", "MUG-Chor1", "UM-Chor1", "U-CH1", "U-CH2"], "range": [85.8, 195.8], "padding": 0}, "axis": null}, "text": {"field": "cell"}}},
        {"mark": {"type": "text", "align": "right", "baseline": "middle", "fontSize": 23, "color": "#e8202a"}, "encoding": {"x": {"datum": 1, "type": "quantitative", "scale": {"domain": [0, 1], "nice": false, "zero": false}, "axis": null}, "y": {"field": "cell", "type": "nominal", "sort": null, "scale": {"type": "point", "domain": ["JHC7", "MUG-Chor1", "UM-Chor1", "U-CH1", "U-CH2"], "range": [85.8, 195.8], "padding": 0}, "axis": null}, "text": {"field": "t_rank"}}},
        {"transform": [{"filter": "datum.cell == 'JHC7'"}], "mark": {"type": "text", "align": "left", "baseline": "middle", "fontSize": 23, "fontStyle": "italic", "color": "#222", "dy": -34.4}, "encoding": {"x": {"datum": -0.0353, "type": "quantitative", "scale": {"domain": [0, 1], "nice": false, "zero": false}, "axis": null}, "y": {"field": "cell", "type": "nominal", "sort": null, "scale": {"type": "point", "domain": ["JHC7", "MUG-Chor1", "UM-Chor1", "U-CH1", "U-CH2"], "range": [85.8, 195.8], "padding": 0}, "axis": null}, "text": {"value": "T"}}},
        {"transform": [{"filter": "datum.cell == 'JHC7'"}], "mark": {"type": "text", "align": "right", "baseline": "middle", "fontSize": 23, "color": "#222", "dy": -34.4}, "encoding": {"x": {"datum": 0.9894, "type": "quantitative", "scale": {"domain": [0, 1], "nice": false, "zero": false}, "axis": null}, "y": {"field": "cell", "type": "nominal", "sort": null, "scale": {"type": "point", "domain": ["JHC7", "MUG-Chor1", "UM-Chor1", "U-CH1", "U-CH2"], "range": [85.8, 195.8], "padding": 0}, "axis": null}, "text": {"value": "enhancer rank in cell lines"}}},
        {"transform": [{"filter": "datum.cell == 'JHC7'"}], "mark": {"type": "rule", "color": "#222", "strokeWidth": 1.4, "yOffset": -23.4}, "encoding": {"x": {"datum": 0.0283, "type": "quantitative", "scale": {"domain": [0, 1], "nice": false, "zero": false}, "axis": null}, "x2": {"datum": 0.9505}, "y": {"field": "cell", "type": "nominal", "sort": null, "scale": {"type": "point", "domain": ["JHC7", "MUG-Chor1", "UM-Chor1", "U-CH1", "U-CH2"], "range": [85.8, 195.8], "padding": 0}, "axis": null}}},
        {"transform": [{"filter": "datum.cell == 'JHC7'"}], "mark": {"type": "text", "align": "left", "baseline": "alphabetic", "fontSize": 34, "fontWeight": "bold", "color": "#111", "dy": -51.1}, "encoding": {"x": {"datum": -0.1943, "type": "quantitative", "scale": {"domain": [0, 1], "nice": false, "zero": false}, "axis": null}, "y": {"field": "cell", "type": "nominal", "sort": null, "scale": {"type": "point", "domain": ["JHC7", "MUG-Chor1", "UM-Chor1", "U-CH1", "U-CH2"], "range": [85.8, 195.8], "padding": 0}, "axis": null}, "text": {"value": "b"}}}
      ]
    },
    {
      "width": 261, "height": 78,
      "view": {"stroke": null},
      "data": {"name": "note"},
      "layer": [
        {"transform": [{"filter": "datum.line == 'l1'"}], "mark": {"type": "text", "align": "center", "baseline": "middle", "fontSize": 23, "color": "#222"}, "encoding": {"x": {"datum": 0.5, "type": "quantitative", "scale": {"domain": [0, 0.3718], "nice": false, "zero": false}, "axis": null}, "y": {"field": "line", "type": "nominal", "scale": {"type": "point", "domain": ["l1", "l2", "l3"], "range": [-9.3, 42.7], "padding": 0}, "axis": null}, "text": {"field": "a"}}},
        {"transform": [{"filter": "datum.line == 'l2'"}], "mark": {"type": "text", "align": "left", "baseline": "middle", "fontSize": 23, "color": "#222", "dx": -192.7}, "encoding": {"x": {"datum": 0.5, "type": "quantitative", "scale": {"domain": [0, 0.3718], "nice": false, "zero": false}, "axis": null}, "y": {"field": "line", "type": "nominal", "scale": {"type": "point", "domain": ["l1", "l2", "l3"], "range": [-9.3, 42.7], "padding": 0}, "axis": null}, "text": {"field": "a"}}},
        {"transform": [{"filter": "datum.line == 'l2'"}], "mark": {"type": "text", "align": "left", "baseline": "middle", "fontSize": 23, "fontStyle": "italic", "color": "#222", "dx": -73.8}, "encoding": {"x": {"datum": 0.5, "type": "quantitative", "scale": {"domain": [0, 0.3718], "nice": false, "zero": false}, "axis": null}, "y": {"field": "line", "type": "nominal", "scale": {"type": "point", "domain": ["l1", "l2", "l3"], "range": [-9.3, 42.7], "padding": 0}, "axis": null}, "text": {"field": "b"}}},
        {"transform": [{"filter": "datum.line == 'l2'"}], "mark": {"type": "text", "align": "left", "baseline": "middle", "fontSize": 23, "color": "#222", "dx": -53.35}, "encoding": {"x": {"datum": 0.5, "type": "quantitative", "scale": {"domain": [0, 0.3718], "nice": false, "zero": false}, "axis": null}, "y": {"field": "line", "type": "nominal", "scale": {"type": "point", "domain": ["l1", "l2", "l3"], "range": [-9.3, 42.7], "padding": 0}, "axis": null}, "text": {"field": "c"}}},
        {"transform": [{"filter": "datum.line == 'l3'"}], "mark": {"type": "text", "align": "left", "baseline": "middle", "fontSize": 23, "color": "#e8202a", "dx": -97.8}, "encoding": {"x": {"datum": 0.5, "type": "quantitative", "scale": {"domain": [0, 0.3718], "nice": false, "zero": false}, "axis": null}, "y": {"field": "line", "type": "nominal", "scale": {"type": "point", "domain": ["l1", "l2", "l3"], "range": [-9.3, 42.7], "padding": 0}, "axis": null}, "text": {"field": "a"}}},
        {"transform": [{"filter": "datum.line == 'l3'"}], "mark": {"type": "text", "align": "left", "baseline": "middle", "fontSize": 23, "color": "#222", "dx": -49.2}, "encoding": {"x": {"datum": 0.5, "type": "quantitative", "scale": {"domain": [0, 0.3718], "nice": false, "zero": false}, "axis": null}, "y": {"field": "line", "type": "nominal", "scale": {"type": "point", "domain": ["l1", "l2", "l3"], "range": [-9.3, 42.7], "padding": 0}, "axis": null}, "text": {"field": "b"}}},
        {"transform": [{"filter": "datum.line == 'l3'"}], "mark": {"type": "text", "align": "left", "baseline": "middle", "fontSize": 23, "color": "#e8202a", "dx": 64.6}, "encoding": {"x": {"datum": 0.5, "type": "quantitative", "scale": {"domain": [0, 0.3718], "nice": false, "zero": false}, "axis": null}, "y": {"field": "line", "type": "nominal", "scale": {"type": "point", "domain": ["l1", "l2", "l3"], "range": [-9.3, 42.7], "padding": 0}, "axis": null}, "text": {"field": "c"}}}
      ]
    }
  ]
}
